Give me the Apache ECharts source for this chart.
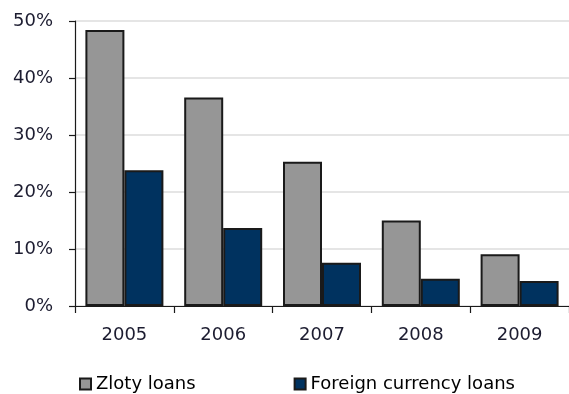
<!DOCTYPE html>
<html>
<head>
<meta charset="utf-8">
<script src="https://cdn.jsdelivr.net/npm/echarts@6/dist/echarts.min.js"></script>
<style>
  html, body { margin: 0; padding: 0; background: #ffffff; }
  #chart { width: 569px; height: 394px; }
</style>
</head>
<body>
<div id="chart"></div>
<script>
// Share of new loans by currency, 2005-2009 (%)
const years = ['2005', '2006', '2007', '2008', '2009'];
const zlotyLoans = [48.4, 36.6, 25.3, 15.0, 9.1];
const foreignLoans = [23.8, 13.7, 7.6, 4.8, 4.4];
const yTicks = { min: 0, max: 50, interval: 10 };

const textColor = '#1c1c30';
const fontFamily = 'DejaVu Sans, Verdana, sans-serif';

const chart = echarts.init(document.getElementById('chart'), null, { renderer: 'canvas' });

chart.setOption({
  animation: false,
  backgroundColor: '#ffffff',
  grid: { left: 75, top: 21, width: 499.5, height: 285, containLabel: false },
  legend: {
    left: 79,
    top: 375,
    padding: 0,
    itemWidth: 11,
    itemHeight: 11,
    itemGap: 98,
    icon: 'rect',
    textStyle: { fontFamily: fontFamily, fontSize: 18, color: '#000000' },
    data: ['Zloty loans', 'Foreign currency loans']
  },
  xAxis: {
    type: 'category',
    data: years,
    boundaryGap: true,
    axisLine: { lineStyle: { color: '#1a1a1a', width: 1.2 } },
    axisTick: { show: true, alignWithLabel: false, length: 7, lineStyle: { color: '#1a1a1a', width: 1.2 } },
    axisLabel: { margin: 20, fontFamily: fontFamily, fontSize: 18, color: textColor }
  },
  yAxis: {
    type: 'value',
    min: yTicks.min,
    max: yTicks.max,
    interval: yTicks.interval,
    axisLine: { show: true, lineStyle: { color: '#1a1a1a', width: 1.2 } },
    axisTick: { show: true, length: 6, lineStyle: { color: '#1a1a1a', width: 1.2 } },
    axisLabel: { margin: 22, formatter: '{value}%', fontFamily: fontFamily, fontSize: 18, color: textColor },
    splitLine: { show: true, lineStyle: { color: '#dcdcdc', width: 1.5 } }
  },
  series: [
    {
      name: 'Zloty loans',
      type: 'bar',
      data: zlotyLoans,
      barWidth: 39,
      barGap: '0%',
      itemStyle: { color: '#969696', borderColor: '#1a1a1a', borderWidth: 2 }
    },
    {
      name: 'Foreign currency loans',
      type: 'bar',
      data: foreignLoans,
      barWidth: 39,
      barGap: '0%',
      itemStyle: { color: '#00325f', borderColor: '#1a1a1a', borderWidth: 2 }
    }
  ]
});
</script>
</body>
</html>
